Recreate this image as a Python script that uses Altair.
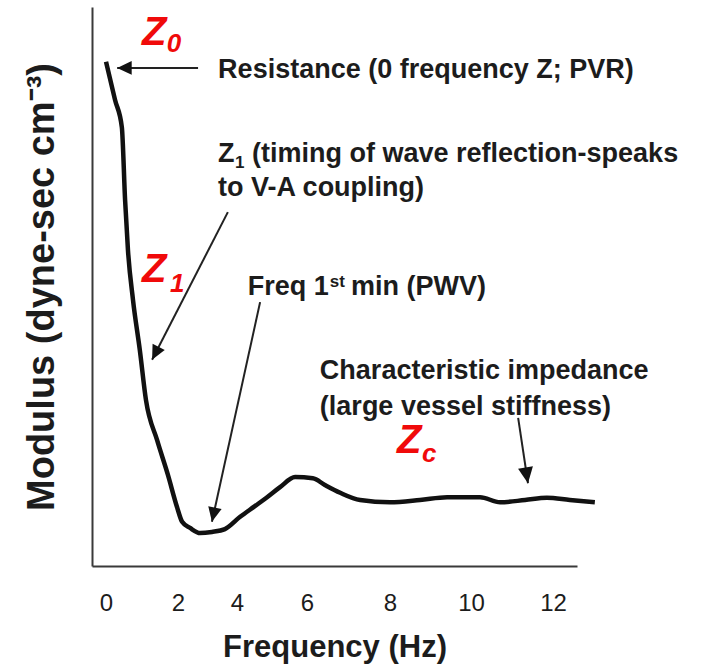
import altair as alt
import pandas as pd

# Impedance modulus spectrum (modulus in arbitrary units, 0-100)
freq_hz = [0.0, 0.25, 0.44, 0.53, 0.61, 0.75, 0.94, 1.11, 1.42, 1.72,
           1.97, 2.14, 2.41, 2.75, 3.15, 3.59, 4.09, 4.51, 4.86, 5.23,
           5.66, 6.14, 6.43, 6.80, 7.28, 8.00, 8.74, 9.41, 10.22, 10.71,
           11.32, 11.85, 12.41, 13.02]
modulus = [90.2, 83.4, 78.5, 65.5, 56.5, 47.6, 38.6, 29.7, 22.5, 16.3,
           10.6, 7.9, 6.8, 5.9, 6.1, 6.6, 8.8, 10.7, 12.3, 14.1,
           15.9, 15.7, 14.5, 13.1, 11.8, 11.4, 11.8, 12.3, 12.3, 11.4,
           11.8, 12.2, 11.8, 11.4]

# Frequency axis: labelled ticks, drawn on an uneven (piecewise) scale
x_ticks = [0, 2, 4, 6, 8, 10, 12]
x_domain = [-0.39, 0, 2, 4, 6, 8, 10, 12, 12.585]
x_range = [0, 14, 86, 145, 215, 298, 379, 461, 485]

# Annotation arrows: tail -> head, head rotation
arrow_x0 = [2.68, 3.69, 4.66, 11.15]
arrow_y0 = [89.1, 63.3, 47.2, 26.5]
arrow_x1 = [0.31, 1.28, 3.15, 11.39]
arrow_y1 = [89.1, 36.9, 7.9, 14.8]
arrow_angle = [270, 207, 192, 171]
arrow_head = [841, 841, 841, 1024]

# Black annotation text (main pieces)
note_text = ["Resistance (0 frequency Z; PVR)", "Z", "(timing of wave reflection-speaks",
             "to V-A coupling)", "Freq 1", "min (PWV)",
             "Characteristic impedance", "(large vessel stiffness)"]
note_x = [3.36, 3.36, 4.43, 3.36, 4.31, 7.06, 6.31, 6.31]
note_y = [87.3, 72.3, 72.3, 66.2, 48.5, 48.5, 33.5, 27.0]

# Small sub/superscript pieces of the black notes
small_text = ["1", "st"]
small_x = [3.93, 6.55]
small_y = [71.2, 49.9]

# Red impedance symbols
sym_text = ["Z", "Z", "Z"]
sym_x = [1.0, 1.0, 8.17]
sym_y = [93.2, 50.8, 20.2]
sub_text = ["0", "1", "c"]
sub_x = [1.69, 1.78, 8.79]
sub_y = [91.9, 49.0, 18.6]

FONT = "Liberation Sans"
INK = "#1c1c1c"
RED = "#f00a0a"

xscale = alt.Scale(domain=x_domain, range=x_range, nice=False, zero=False)
yscale = alt.Scale(domain=[0, 100], nice=False, zero=False)

curve_df = pd.DataFrame({"freq": freq_hz, "mod": modulus})
arrow_df = pd.DataFrame({"x0": arrow_x0, "y0": arrow_y0, "x1": arrow_x1,
                         "y1": arrow_y1, "ang": arrow_angle, "sz": arrow_head})


def text_df(t, x, y):
    return pd.DataFrame({"t": t, "x": x, "y": y})


curve = alt.Chart(curve_df).mark_line(
    color="#111111", strokeWidth=4.5, interpolate="monotone", clip=False
).encode(
    x=alt.X("freq:Q", scale=xscale,
            axis=alt.Axis(values=x_ticks, title="Frequency (Hz)", ticks=False,
                          grid=False, domainColor="#3a3a3a", domainWidth=2,
                          labelFontSize=24, labelColor=INK, labelPadding=25,
                          labelFont=FONT, titleFont=FONT, titleFontSize=31,
                          titleFontWeight="bold", titleColor=INK,
                          titleBaseline="alphabetic", titleY=90)),
    y=alt.Y("mod:Q", scale=yscale,
            axis=alt.Axis(labels=False, ticks=False, grid=False,
                          domainColor="#3a3a3a", domainWidth=2,
                          title="Modulus (dyne-sec cm⁻³)", titleFont=FONT,
                          titleFontSize=38, titleFontWeight="bold",
                          titleColor=INK, titleAngle=270,
                          titleBaseline="alphabetic", titleX=-39)),
)

shafts = alt.Chart(arrow_df).mark_rule(color="#222222", strokeWidth=2).encode(
    x=alt.X("x0:Q", scale=xscale), y=alt.Y("y0:Q", scale=yscale),
    x2="x1:Q", y2="y1:Q",
)

heads = alt.Chart(arrow_df).mark_point(
    shape="M0,0L-0.47,1L0.47,1Z", filled=True, color="#111111",
    opacity=1, strokeWidth=0
).encode(
    x=alt.X("x1:Q", scale=xscale), y=alt.Y("y1:Q", scale=yscale),
    angle=alt.Angle("ang:Q", scale=None),
    size=alt.Size("sz:Q", scale=None),
)


def text_layer(df, size, color, italic=False):
    kw = dict(align="left", baseline="alphabetic", font=FONT, fontSize=size,
              fontWeight="bold", color=color)
    if italic:
        kw["fontStyle"] = "italic"
    return alt.Chart(df).mark_text(**kw).encode(
        x=alt.X("x:Q", scale=xscale), y=alt.Y("y:Q", scale=yscale), text="t:N"
    )


notes = text_layer(text_df(note_text, note_x, note_y), 27, INK)
smalls = text_layer(text_df(small_text, small_x, small_y), 17, INK)
symbols = text_layer(text_df(sym_text, sym_x, sym_y), 40, RED, italic=True)
subs = text_layer(text_df(sub_text, sub_x, sub_y), 26, RED, italic=True)

chart = alt.layer(curve, shafts, heads, notes, smalls, symbols, subs).properties(
    width=485, height=559,
    padding={"left": 92, "top": 7, "right": 124, "bottom": 102},
    autosize=alt.AutoSizeParams(type="none"),
    background="white",
).configure_view(stroke=None)

chart.save("out.html", embed_options={"renderer": "svg", "actions": False})
